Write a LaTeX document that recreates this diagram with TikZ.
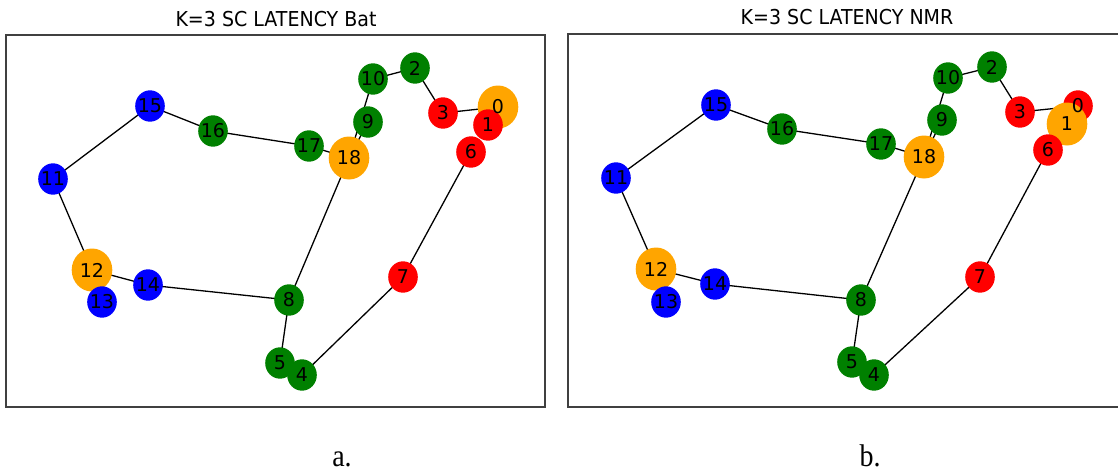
\documentclass[tikz,border=0pt]{standalone}
\usepackage{fontspec}
\usepackage{graphicx}
\usetikzlibrary{shapes.geometric}
\newfontfamily\djv{DejaVu Sans}
\newfontfamily\tms{Liberation Serif}
\definecolor{mgreen}{RGB}{0,128,0}
\definecolor{morange}{RGB}{255,165,0}
\definecolor{mred}{RGB}{255,0,0}
\definecolor{mblue}{RGB}{0,0,255}
\pgfdeclarelayer{background}
\pgfsetlayers{background,main}
\tikzset{
  vsmall/.style={ellipse, inner sep=0pt, minimum width=29.6pt, minimum height=31.4pt},
  vbig/.style={ellipse, inner sep=0pt, minimum width=40.6pt, minimum height=43pt},
  nlabel/.style={inner sep=0pt, font=\djv\fontsize{19}{19}\selectfont},
  edge/.style={line width=1.3pt, black},
  frame/.style={line width=1.4pt, black!75},
  title/.style={anchor=base, inner sep=0pt, font=\djv\fontsize{19}{19}\selectfont},
  caption/.style={anchor=base, inner sep=0pt, font=\tms\fontsize{28}{28}\selectfont},
}
\begin{document}
\begin{tikzpicture}[x=1pt, y=-1pt]
\useasboundingbox (0,0) rectangle (1118,475);

% ---------- panel a ----------
\node[title] (ta) at (276,26) {\scalebox{1}[1.08]{K=3 SC LATENCY Bat}};
\draw[frame] (6,35) rectangle (545,407);
\foreach \n/\x/\y/\c/\s in {
  0/498/107/morange/vbig, 1/488/125/mred/vsmall, 2/415/68/mgreen/vsmall,
  3/443/113/mred/vsmall, 4/302/375/mgreen/vsmall, 5/280/363/mgreen/vsmall,
  6/471/152/mred/vsmall, 7/403/277/mred/vsmall, 8/289/300/mgreen/vsmall,
  9/368/122/mgreen/vsmall, 10/373/79/mgreen/vsmall, 11/53/179/mblue/vsmall,
  12/92/270/morange/vbig, 13/102/302/mblue/vsmall, 14/148/285/mblue/vsmall,
  15/150/106/mblue/vsmall, 16/213/131/mgreen/vsmall, 17/309/146/mgreen/vsmall,
  18/349/158/morange/vbig}
  {\node[\s, fill=\c] (a\n) at (\x,\y) {};}
\foreach \n in {0,...,18} {\node[nlabel] (a\n l) at (a\n) {\n};}
\begin{pgfonlayer}{background}
  \foreach \u/\v in {11/15, 15/16, 16/17, 17/18, 18/9, 18/10, 10/2, 2/3, 3/0,
                     18/8, 8/14, 14/12, 12/11, 8/5, 4/7, 7/6}
    {\draw[edge] (a\u.center) -- (a\v.center);}
\end{pgfonlayer}
\node[caption] (ca) at (342,466) {\scalebox{1}[1.12]{a.}};

% ---------- panel b ----------
\node[title] (tb) at (847,24) {\scalebox{1}[1.08]{K=3 SC LATENCY NMR}};
\draw[frame] (568,34) rectangle (1121,407);
\foreach \n/\x/\y/\c/\s in {
  0/1078/106/mred/vsmall, 1/1067/124/morange/vbig, 2/992/67/mgreen/vsmall,
  3/1020/112/mred/vsmall, 4/874/375/mgreen/vsmall, 5/852/362/mgreen/vsmall,
  6/1048/150/mred/vsmall, 7/980/277/mred/vsmall, 8/861/300/mgreen/vsmall,
  9/942/120/mgreen/vsmall, 10/948/78/mgreen/vsmall, 11/616/178/mblue/vsmall,
  12/656/269/morange/vbig, 13/666/302/mblue/vsmall, 14/715/284/mblue/vsmall,
  15/716/105/mblue/vsmall, 16/782/129/mgreen/vsmall, 17/881/144/mgreen/vsmall,
  18/924/157/morange/vbig}
  {\node[\s, fill=\c] (b\n) at (\x,\y) {};}
\foreach \n in {0,...,18} {\node[nlabel] (b\n l) at (b\n) {\n};}
\begin{pgfonlayer}{background}
  \foreach \u/\v in {11/15, 15/16, 16/17, 17/18, 18/9, 18/10, 10/2, 2/3, 3/0,
                     18/8, 8/14, 14/12, 12/11, 8/5, 4/7, 7/6}
    {\draw[edge] (b\u.center) -- (b\v.center);}
\end{pgfonlayer}
\node[caption] (cb) at (870,466) {\scalebox{1}[1.12]{b.}};
\end{tikzpicture}
\end{document}
